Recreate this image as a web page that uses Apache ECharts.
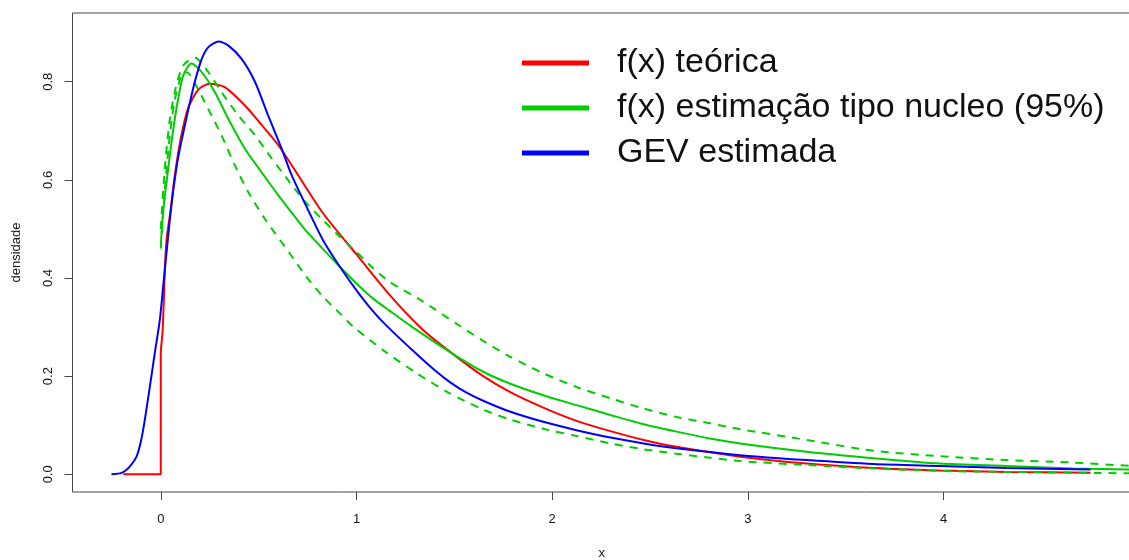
<!DOCTYPE html>
<html>
<head>
<meta charset="utf-8">
<script src="https://cdn.jsdelivr.net/npm/echarts@6/dist/echarts.min.js"></script>
<style>
  html, body { margin: 0; padding: 0; background: #fff; }
  #chart { width: 1129px; height: 560px; }
</style>
</head>
<body>
<div id="chart"></div>
<script>
// values
const xTicks = [0, 1, 2, 3, 4];
const yTicks = [0, 0.2, 0.4, 0.6, 0.8];

const teoricaX = [-0.192, 0, 0, 0.009, 0.016, 0.022, 0.03, 0.04, 0.051, 0.072, 0.102, 0.139, 0.19, 0.25, 0.327, 0.429, 0.515, 0.6, 0.685, 0.829, 1.0, 1.17, 1.34, 1.49, 1.647, 1.783, 1.954, 2.124, 2.297, 2.467, 2.635, 2.96, 3.3, 3.64, 3.98, 4.32, 4.75];
const teoricaY = [0, 0, 0.246, 0.29, 0.36, 0.43, 0.48, 0.51, 0.54, 0.61, 0.684, 0.745, 0.783, 0.796, 0.789, 0.752, 0.712, 0.671, 0.62, 0.532, 0.448, 0.365, 0.294, 0.246, 0.2, 0.168, 0.136, 0.109, 0.088, 0.07, 0.056, 0.036, 0.022, 0.013, 0.008, 0.005, 0.003];

const gevX = [-0.252, -0.2, -0.167, -0.124, -0.1, -0.082, -0.056, -0.031, -0.005, 0.012, 0.029, 0.046, 0.063, 0.088, 0.123, 0.15, 0.174, 0.208, 0.242, 0.296, 0.344, 0.412, 0.481, 0.548, 0.617, 0.668, 0.745, 0.829, 0.915, 1.0, 1.085, 1.153, 1.307, 1.4, 1.477, 1.56, 1.647, 1.783, 1.954, 2.124, 2.297, 2.467, 2.635, 2.96, 3.3, 3.64, 3.98, 4.32, 4.75];
const gevY = [0, 0.003, 0.012, 0.036, 0.07, 0.11, 0.178, 0.246, 0.314, 0.382, 0.45, 0.518, 0.576, 0.644, 0.711, 0.76, 0.8, 0.845, 0.87, 0.882, 0.874, 0.847, 0.8, 0.732, 0.664, 0.61, 0.545, 0.477, 0.423, 0.375, 0.332, 0.303, 0.245, 0.212, 0.188, 0.167, 0.15, 0.128, 0.107, 0.09, 0.075, 0.063, 0.053, 0.039, 0.029, 0.021, 0.017, 0.013, 0.01];

const nucleoX = [0, 0.012, 0.034, 0.055, 0.08, 0.115, 0.157, 0.208, 0.276, 0.344, 0.429, 0.514, 0.6, 0.685, 0.745, 0.829, 0.915, 1.0, 1.085, 1.17, 1.289, 1.49, 1.647, 1.783, 1.954, 2.124, 2.297, 2.467, 2.635, 2.805, 2.96, 3.3, 3.64, 3.98, 4.32, 4.66, 4.96];
const nucleoY = [0.467, 0.535, 0.61, 0.677, 0.745, 0.813, 0.837, 0.82, 0.779, 0.725, 0.664, 0.616, 0.569, 0.525, 0.495, 0.459, 0.423, 0.389, 0.358, 0.333, 0.299, 0.246, 0.209, 0.185, 0.161, 0.141, 0.121, 0.102, 0.087, 0.073, 0.063, 0.046, 0.033, 0.022, 0.017, 0.012, 0.01];

const supX = [0, 0.02, 0.045, 0.072, 0.1, 0.123, 0.174, 0.242, 0.31, 0.395, 0.481, 0.566, 0.659, 0.745, 0.829, 0.915, 1.0, 1.085, 1.17, 1.34, 1.51, 1.647, 1.783, 1.954, 2.124, 2.297, 2.467, 2.635, 2.805, 2.96, 3.3, 3.64, 3.98, 4.32, 4.66, 4.96];
const supY = [0.5, 0.62, 0.72, 0.78, 0.82, 0.837, 0.849, 0.82, 0.779, 0.732, 0.691, 0.644, 0.595, 0.552, 0.518, 0.484, 0.453, 0.42, 0.392, 0.352, 0.307, 0.272, 0.24, 0.206, 0.178, 0.155, 0.134, 0.117, 0.104, 0.092, 0.07, 0.048, 0.037, 0.029, 0.024, 0.017];

const infX = [0, 0.01, 0.025, 0.046, 0.07, 0.095, 0.114, 0.14, 0.17, 0.242, 0.31, 0.378, 0.446, 0.531, 0.659, 0.745, 0.829, 0.915, 0.983, 1.136, 1.307, 1.477, 1.647, 1.783, 1.954, 2.124, 2.297, 2.467, 2.635, 2.805, 2.96, 3.3, 3.64, 3.98, 4.32, 4.96];
const infY = [0.46, 0.52, 0.6, 0.69, 0.76, 0.8, 0.82, 0.818, 0.8, 0.745, 0.691, 0.63, 0.576, 0.521, 0.45, 0.402, 0.362, 0.328, 0.301, 0.253, 0.206, 0.165, 0.132, 0.112, 0.093, 0.078, 0.063, 0.051, 0.042, 0.034, 0.027, 0.019, 0.012, 0.007, 0.005, 0.002];

const legendNames = ["f(x) teórica", "f(x) estimação tipo nucleo (95%)", "GEV estimada"];

const pairs = (xs, ys) => xs.map((x, i) => [x, ys[i]]);

const chart = echarts.init(document.getElementById("chart"), null, { renderer: "canvas" });

const RED = "#ff0000", GREEN = "#00cd00", BLUE = "#0000ff";
const font = "'Liberation Sans', Arial, sans-serif";

function lineSeries(name, data, color, dashed) {
  return {
    name: name,
    type: "line",
    data: data,
    showSymbol: false,
    symbol: "none",
    smooth: 0.25,
    clip: true,
    lineStyle: { width: 2, color: color, type: dashed ? [8, 7] : "solid" },
    itemStyle: { color: color },
    emphasis: { disabled: true },
  };
}

const option = {
  animation: false,
  backgroundColor: "#fff",
  grid: {
    left: 72.5,
    right: -2,
    top: 13,
    bottom: 68,
    show: true,
    borderColor: "#444",
    borderWidth: 1,
    containLabel: false,
    outerBoundsMode: "none",
  },
  legend: {
    data: legendNames,
    orient: "vertical",
    left: 522,
    top: 43,
    padding: 0,
    itemGap: 5,
    itemWidth: 67,
    itemHeight: 5,
    icon: "rect",
    selectedMode: false,
    textStyle: {
      fontFamily: font,
      fontSize: 34,
      lineHeight: 40,
      color: "#111",
      padding: [0, 0, 0, 23],
    },
  },
  xAxis: {
    type: "value",
    min: -0.451,
    max: 4.957,
    name: "x",
    nameLocation: "middle",
    nameGap: 55,
    nameTextStyle: { fontFamily: font, fontSize: 13, color: "#111" },
    axisLine: { show: false, onZero: false },
    splitLine: { show: false },
    axisTick: {
      show: true,
      length: 8,
      customValues: xTicks,
      lineStyle: { color: "#444" },
    },
    axisLabel: {
      customValues: xTicks,
      margin: 21,
      fontFamily: font,
      fontSize: 13,
      color: "#111",
      formatter: (v) => String(v),
    },
  },
  yAxis: {
    type: "value",
    min: -0.036,
    max: 0.94,
    name: "densidade",
    nameLocation: "middle",
    nameGap: 50,
    nameTextStyle: { fontFamily: font, fontSize: 13, color: "#111" },
    axisLine: { show: false, onZero: false },
    splitLine: { show: false },
    axisTick: {
      show: true,
      length: 8,
      customValues: yTicks,
      lineStyle: { color: "#444" },
    },
    axisLabel: {
      customValues: yTicks,
      rotate: 90,
      margin: 17.5,
      fontFamily: font,
      fontSize: 13,
      color: "#111",
      formatter: (v) => Number(v).toFixed(1),
    },
  },
  series: [
    lineSeries(legendNames[0], pairs(teoricaX, teoricaY), RED, false),
    lineSeries("limite superior", pairs(supX, supY), GREEN, true),
    lineSeries("limite inferior", pairs(infX, infY), GREEN, true),
    lineSeries(legendNames[1], pairs(nucleoX, nucleoY), GREEN, false),
    lineSeries(legendNames[2], pairs(gevX, gevY), BLUE, false),
  ],
};

chart.setOption(option);
</script>
</body>
</html>
